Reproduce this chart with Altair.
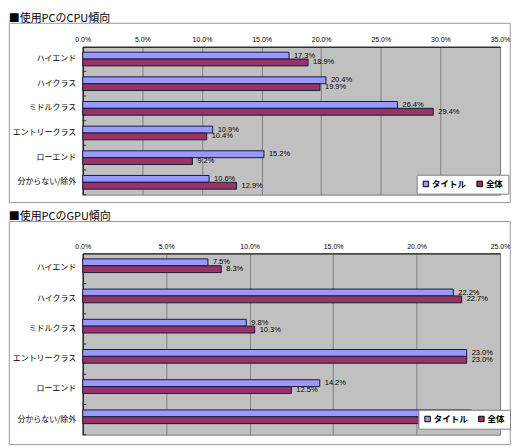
import altair as alt
import pandas as pd

categories = ["ハイエンド", "ハイクラス", "ミドルクラス", "エントリークラス", "ローエンド", "分からない/除外"]
series = ["タイトル", "全体"]
cpu_title = [17.3, 20.4, 26.4, 10.9, 15.2, 10.6]
cpu_all = [18.9, 19.9, 29.4, 10.4, 9.2, 12.9]
gpu_title = [7.5, 22.2, 9.8, 23.0, 14.2, 23.3]
gpu_all = [8.3, 22.7, 10.3, 23.0, 12.5, 23.2]
cpu_ticks = [0, 5, 10, 15, 20, 25, 30, 35]
gpu_ticks = [0, 5, 10, 15, 20, 25]
colors = ["#9999FF", "#993366"]

JP = "Noto Sans CJK JP"
NUM = "Liberation Sans Narrow, Liberation Sans, Arial"


def long_df(a, b):
    rows = []
    for c, v1, v2 in zip(categories, a, b):
        rows.append({"cat": c, "series": series[0], "value": v1})
        rows.append({"cat": c, "series": series[1], "value": v2})
    return pd.DataFrame(rows)


def panel(df, ticks, plot_w, plot_h, title, leg_x, leg_y, box):
    bx1, by1, bx2, by2 = box
    base = alt.Chart(df)
    x = alt.X("value:Q", scale=alt.Scale(domain=[ticks[0], ticks[-1]], nice=False),
              axis=alt.Axis(orient="top", values=ticks, labelExpr="format(datum.value, '.1f') + '%'",
                            grid=True, gridColor="#808080", gridWidth=1, domainColor="#000000",
                            domainWidth=1, ticks=False, labelPadding=4, labelFontSize=7,
                            labelFont=NUM, labelColor="#000000", labelFlush=False, title=None))
    y = alt.Y("cat:N", sort=categories, scale=alt.Scale(paddingInner=0, paddingOuter=0),
              axis=alt.Axis(title=None, labelFontSize=8, labelFont=JP, labelColor="#000000",
                            labelPadding=7, ticks=False, domainColor="#000000", domainWidth=1,
                            grid=False))
    yoff = alt.YOffset("series:N", sort=series, scale=alt.Scale(paddingOuter=0.8, paddingInner=0))
    bars = base.mark_bar(stroke="#1a1a40", strokeWidth=1).encode(
        x=x, y=y, yOffset=yoff,
        color=alt.Color("series:N", sort=series,
                        scale=alt.Scale(domain=series, range=colors),
                        legend=alt.Legend(orient="none", legendX=leg_x, legendY=leg_y,
                                          direction="horizontal", title=None,
                                          fillColor="#FFFFFF", strokeColor="#808080",
                                          padding=5, symbolType="square", symbolSize=30,
                                          symbolStrokeColor="#000000", symbolStrokeWidth=1,
                                          labelFont=JP, labelFontSize=8.5, labelFontWeight="bold",
                                          labelColor="#000000", labelOffset=2, columnPadding=8)),
    )
    labels = base.transform_calculate(
        label="format(datum.value, '.1f') + '%'"
    ).mark_text(align="left", baseline="middle", dx=5, fontSize=7.5, font=NUM,
                color="#000000").encode(x="value:Q", y=alt.Y("cat:N", sort=categories),
                                         yOffset=alt.YOffset("series:N", sort=series), text="label:N")
    ticks_in = alt.Chart(pd.DataFrame({"cat": categories})).mark_rule(
        color="#333333", strokeWidth=1).encode(
        y=alt.Y("cat:N", sort=categories, bandPosition=1),
        x=alt.value(0), x2=alt.value(3.5))
    frame = alt.Chart(pd.DataFrame({"k": [0]})).mark_rect(
        fill=None, filled=False, stroke="#999999", strokeWidth=1).encode(
        x=alt.value(bx1), x2=alt.value(bx2), y=alt.value(by1), y2=alt.value(by2))
    return alt.layer(frame, bars, labels, ticks_in).properties(
        width=plot_w, height=plot_h,
        title=alt.TitleParams(title, anchor="start", fontSize=11, font=JP,
                              fontWeight="normal", color="#000000", offset=-1),
    )


plot_w = 419
cpu = panel(long_df(cpu_title, cpu_all), cpu_ticks, plot_w, 148.5, "■使用PCのCPU傾向",
            335.3, 128.5, (-73.7, -23.5, 429.3, 156.5))
gpu = panel(long_df(gpu_title, gpu_all), gpu_ticks, plot_w, 182, "■使用PCのGPU傾向",
            337, 157, (-73.7, -32, 429.3, 192))

chart = alt.vconcat(cpu, gpu, spacing=6.5).resolve_legend(color="independent").properties(
    padding={"top": 3, "left": 0, "right": 0, "bottom": 0}
).configure_view(fill="#C0C0C0", stroke="#808080", strokeWidth=1)

chart.save("out.html", embed_options={"renderer": "svg", "actions": False})
